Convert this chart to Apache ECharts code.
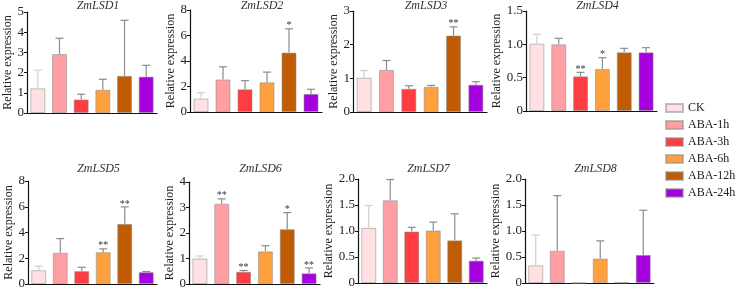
<!DOCTYPE html>
<html>
<head>
<meta charset="utf-8">
<script src="https://cdn.jsdelivr.net/npm/echarts@6/dist/echarts.min.js"></script>
<style>
  html, body { margin: 0; padding: 0; background: #fff; }
  #chart { width: 736px; height: 291px; }
</style>
</head>
<body>
<div id="chart"></div>
<script>
// treatments (one bar per treatment in every panel)
const treatments = ['CK', 'ABA-1h', 'ABA-3h', 'ABA-6h', 'ABA-12h', 'ABA-24h'];
const barColors = ['#ffe1e4', '#ff9fa4', '#ff3c42', '#ffa03e', '#c05c04', '#a600de'];
const errColors = ['#cfcfcf', '#8c8c8c', '#8c8c8c', '#8c8c8c', '#8c8c8c', '#8c8c8c'];

const genes = ['ZmLSD1', 'ZmLSD2', 'ZmLSD3', 'ZmLSD4', 'ZmLSD5', 'ZmLSD6', 'ZmLSD7', 'ZmLSD8'];

// means
const lsd1Mean = [1.22, 2.92, 0.67, 1.15, 1.84, 1.80];
const lsd2Mean = [1.05, 2.55, 1.78, 2.33, 4.66, 1.42];
const lsd3Mean = [1.02, 1.25, 0.69, 0.75, 2.27, 0.81];
const lsd4Mean = [1.01, 1.00, 0.52, 0.63, 0.88, 0.88];
const lsd5Mean = [1.07, 2.43, 1.00, 2.47, 4.67, 0.92];
const lsd6Mean = [1.00, 3.15, 0.48, 1.28, 2.15, 0.42];
const lsd7Mean = [1.06, 1.59, 0.99, 1.01, 0.82, 0.43];
const lsd8Mean = [0.34, 0.62, 0, 0.47, 0.01, 0.54];

// upper error (SD)
const lsd1Err = [0.90, 0.78, 0.26, 0.52, 2.75, 0.56];
const lsd2Err = [0.46, 0.99, 0.68, 0.80, 1.86, 0.36];
const lsd3Err = [0.21, 0.28, 0.09, 0.04, 0.26, 0.09];
const lsd4Err = [0.14, 0.09, 0.06, 0.17, 0.06, 0.07];
const lsd5Err = [0.31, 1.10, 0.30, 0.26, 1.32, 0.05];
const lsd6Err = [0.10, 0.19, 0.05, 0.22, 0.65, 0.21];
const lsd7Err = [0.43, 0.40, 0.08, 0.16, 0.51, 0.05];
const lsd8Err = [0.58, 1.06, 0, 0.34, 0, 0.86];

// significance marks
const lsd1Sig = ['', '', '', '', '', ''];
const lsd2Sig = ['', '', '', '', '*', ''];
const lsd3Sig = ['', '', '', '', '**', ''];
const lsd4Sig = ['', '', '**', '*', '', ''];
const lsd5Sig = ['', '', '', '**', '**', ''];
const lsd6Sig = ['', '**', '**', '', '*', '**'];
const lsd7Sig = ['', '', '', '', '', ''];
const lsd8Sig = ['', '', '', '', '', ''];

// y-axis max / interval
const yMax = [5, 8, 3, 1.5, 8, 4, 2, 2];
const yInterval = [1, 2, 1, 0.5, 2, 1, 0.5, 0.5];

const means = [lsd1Mean, lsd2Mean, lsd3Mean, lsd4Mean, lsd5Mean, lsd6Mean, lsd7Mean, lsd8Mean];
const errs = [lsd1Err, lsd2Err, lsd3Err, lsd4Err, lsd5Err, lsd6Err, lsd7Err, lsd8Err];
const sigs = [lsd1Sig, lsd2Sig, lsd3Sig, lsd4Sig, lsd5Sig, lsd6Sig, lsd7Sig, lsd8Sig];

// panel boxes: left, right edge, top, bottom (px)
const boxes = [
  [27, 157, 12, 113], [190, 322, 10, 112], [353, 487, 11, 112], [526, 657, 11, 111],
  [28, 157, 181, 284], [189, 320, 182, 284], [358, 487, 179, 283], [525, 654, 179, 283]
];
const nameGaps = [10, 10, 12, 22, 13, 11, 16, 21];
const titleTops = [0, 0, 0, 0, 163, 163, 163, 163];

const FONT = '"Liberation Serif", "Times New Roman", "DejaVu Serif", serif';

const chart = echarts.init(document.getElementById('chart'));

const grid = [], xAxis = [], yAxis = [], title = [], series = [];

genes.forEach((gene, g) => {
  const [l, r, t, b] = boxes[g];
  grid.push({ left: l, top: t, width: r - l, height: b - t });
  title.push({
    text: gene,
    left: (l + r) / 2 + 6,
    top: titleTops[g],
    padding: 0,
    textAlign: 'center',
    textStyle: { fontFamily: FONT, fontStyle: 'italic', fontWeight: 'normal', fontSize: 12, color: '#333' }
  });
  xAxis.push({
    type: 'category',
    gridIndex: g,
    data: treatments,
    axisLine: { lineStyle: { color: '#111', width: 1.2 } },
    axisTick: { show: false },
    axisLabel: { show: false }
  });
  yAxis.push({
    type: 'value',
    gridIndex: g,
    min: 0,
    max: yMax[g],
    interval: yInterval[g],
    name: 'Relative expression',
    nameLocation: 'middle',
    nameGap: nameGaps[g],
    nameTextStyle: { fontFamily: FONT, fontSize: 12, color: '#222' },
    axisLine: { show: true, lineStyle: { color: '#111', width: 1.2 } },
    axisTick: { show: true, length: 3, lineStyle: { color: '#111' } },
    axisLabel: {
      fontFamily: FONT, fontSize: 13, color: '#222', margin: 3,
      formatter: v => (v === 0 ? '0' : (yInterval[g] < 1 ? v.toFixed(1) : String(v)))
    },
    splitLine: { show: false }
  });

  treatments.forEach((name, k) => {
    series.push({
      name: name,
      type: 'bar',
      xAxisIndex: g,
      yAxisIndex: g,
      barWidth: 15,
      barGap: '-100%',
      data: means[g].map((v, i) => (i === k ? v : '-')),
      itemStyle: { color: barColors[k], borderColor: 'rgba(140,140,140,0.55)', borderWidth: 1 },
      silent: true
    });
  });

  series.push({
    type: 'custom',
    xAxisIndex: g,
    yAxisIndex: g,
    silent: true,
    z: 5,
    data: means[g].map((v, i) => [i, v, errs[g][i]]),
    renderItem: (params, api) => {
      const i = params.dataIndex;
      const m = api.value(1), e = api.value(2);
      const p0 = api.coord([i, m]);
      const p1 = api.coord([i, m + e]);
      const children = [];
      const col = errColors[i];
      if (e > 0) {
        children.push({
          type: 'line',
          shape: { x1: p0[0], y1: p0[1], x2: p1[0], y2: p1[1] },
          style: { stroke: col, lineWidth: 1.2 }
        });
        children.push({
          type: 'line',
          shape: { x1: p1[0] - 4, y1: p1[1], x2: p1[0] + 4, y2: p1[1] },
          style: { stroke: col, lineWidth: 1.2 }
        });
      }
      const s = sigs[g][i];
      if (s) {
        children.push({
          type: 'text',
          x: p1[0],
          y: p1[1] + 2,
          style: { text: s, fontFamily: FONT, fontSize: 10, fill: '#333', align: 'center', verticalAlign: 'bottom' }
        });
      }
      return { type: 'group', children };
    }
  });
});

chart.setOption({
  animation: false,
  backgroundColor: '#fff',
  title,
  grid,
  xAxis,
  yAxis,
  legend: {
    data: treatments,
    orient: 'vertical',
    left: 665,
    top: 102,
    padding: 0,
    icon: 'rect',
    itemWidth: 17,
    itemHeight: 8,
    itemGap: 5,
    selectedMode: false,
    textStyle: { fontFamily: FONT, fontSize: 12, color: '#222' }
  },
  series
});
</script>
</body>
</html>
